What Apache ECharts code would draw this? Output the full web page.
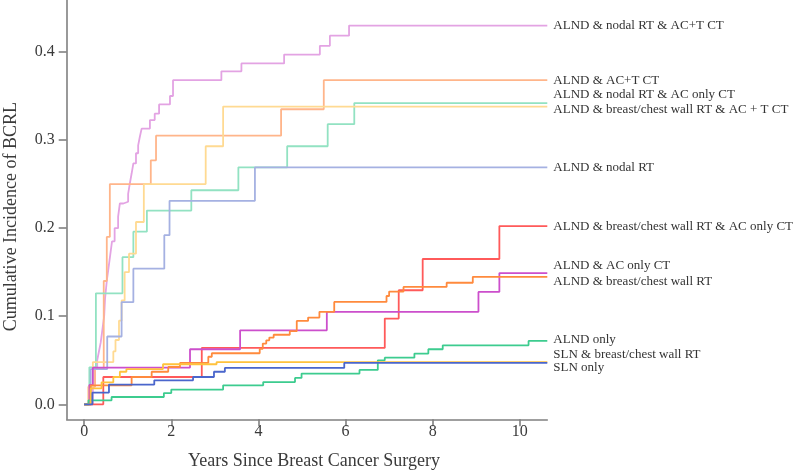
<!DOCTYPE html>
<html>
<head>
<meta charset="utf-8">
<script src="https://cdn.jsdelivr.net/npm/echarts@6/dist/echarts.min.js"></script>
<style>html,body{margin:0;padding:0;background:#fff}#c{width:800px;height:473px}</style>
</head>
<body>
<div id="c"></div>
<script>
// Group names
const groupNames = [
  'ALND & nodal RT & AC+T CT',
  'ALND & AC+T CT',
  'ALND & nodal RT & AC only CT',
  'ALND & breast/chest wall RT & AC + T CT',
  'ALND & nodal RT',
  'ALND & breast/chest wall RT & AC only CT',
  'ALND & AC only CT',
  'ALND & breast/chest wall RT',
  'ALND only',
  'SLN & breast/chest wall RT',
  'SLN only'
];
const xTicks = [0, 2, 4, 6, 8, 10];
const yTicks = [0, 0.1, 0.2, 0.3, 0.4];

// [years, cumulative incidence after event]
const alndNodalAcT = [[0,0],[0.2,0.02],[0.25,0.04],[0.30,0.05],[0.34,0.06],[0.38,0.07],[0.42,0.085],[0.46,0.10],[0.48,0.12],[0.52,0.14],[0.56,0.155],[0.60,0.17],[0.64,0.185],[0.70,0.20],[0.78,0.213],[0.82,0.228],[0.90,0.23],[1.01,0.239],[1.05,0.251],[1.09,0.262],[1.13,0.2735],[1.19,0.285],[1.24,0.294],[1.28,0.304],[1.32,0.313],[1.51,0.3227],[1.62,0.330],[1.72,0.3405],[1.97,0.35],[2.04,0.368],[3.15,0.378],[3.61,0.387],[4.59,0.397],[5.41,0.407],[5.64,0.4185],[6.08,0.430],[10.63,0.430]];
const alndAcT = [[0,0],[0.1,0.02],[0.25,0.04],[0.45,0.14],[0.52,0.19],[0.59,0.25],[1.53,0.277],[1.65,0.305],[4.52,0.335],[5.50,0.368],[10.63,0.368]];
const alndNodalAcOnly = [[0,0],[0.12,0.042],[0.27,0.126],[0.88,0.167],[1.13,0.196],[1.44,0.22],[2.46,0.243],[3.54,0.269],[4.66,0.293],[5.59,0.318],[6.20,0.342],[10.63,0.342]];
const alndBcwAcT = [[0,0],[0.1,0.02],[0.2,0.048],[0.67,0.06],[0.72,0.073],[0.80,0.095],[0.86,0.118],[0.93,0.15],[1.03,0.171],[1.19,0.207],[1.37,0.25],[2.79,0.293],[3.19,0.338],[10.63,0.338]];
const alndNodal = [[0,0],[0.15,0.04],[0.53,0.077],[0.86,0.116],[1.13,0.154],[1.84,0.192],[1.96,0.231],[3.92,0.269],[10.63,0.269]];
const alndBcwAcOnly = [[0,0],[0.44,0.031],[2.70,0.064],[6.90,0.0974],[7.22,0.1295],[7.77,0.165],[9.53,0.2023],[10.63,0.2023]];
const alndAcOnly = [[0,0],[0.12,0.022],[0.2,0.0417],[2.43,0.0625],[3.58,0.084],[5.57,0.105],[9.05,0.1276],[9.53,0.149],[10.63,0.149]];
const alndBcw = [[0,0],[0.15,0.0216],[1.09,0.031],[1.55,0.037],[1.93,0.0424],[2.2,0.047],[2.85,0.054],[2.93,0.058],[4.03,0.063],[4.10,0.069],[4.18,0.0727],[4.25,0.0758],[4.35,0.079],[4.72,0.083],[4.88,0.0947],[5.14,0.0985],[5.40,0.105],[5.74,0.1163],[6.94,0.123],[7.0,0.128],[7.33,0.1333],[8.32,0.138],[8.92,0.1447],[10.63,0.1447]];
const alndOnly = [[0,0],[0.1,0.0045],[0.63,0.0083],[1.83,0.0128],[2.0,0.0167],[3.19,0.0216],[4.11,0.0253],[4.84,0.030],[4.99,0.0349],[6.32,0.039],[6.74,0.050],[6.90,0.053],[7.58,0.0576],[7.90,0.0625],[8.23,0.067],[10.2,0.072],[10.63,0.072]];
const slnBcw = [[0,0],[0.15,0.018],[0.4,0.025],[0.67,0.031],[0.82,0.037],[0.97,0.04],[1.81,0.0455],[3.04,0.048],[10.63,0.048]];
const slnOnly = [[0,0],[0.19,0.0133],[0.57,0.0224],[1.61,0.0273],[2.50,0.031],[2.98,0.037],[3.23,0.0413],[5.97,0.047],[10.63,0.047]];

const seriesData = [alndNodalAcT, alndAcT, alndNodalAcOnly, alndBcwAcT, alndNodal, alndBcwAcOnly, alndAcOnly, alndBcw, alndOnly, slnBcw, slnOnly];
const colors = ['#e3a3e3','#ffb58a','#92e2c2','#ffda92','#a5b1e2','#ff5a5a','#cc4fcc','#ff8a3d','#3dcc8f','#ffc23d','#4a66cc'];
const labelDy = [0, 0, -8, 2.5, 0.5, 0.5, -7, 5, -1, -7.5, 5];

const chart = echarts.init(document.getElementById('c'), null, {renderer: 'canvas'});
const FONT = '"Liberation Serif", "Times New Roman", serif';
chart.setOption({
  animation: false,
  backgroundColor: '#fff',
  grid: {left: 66.7, right: 252.7, top: 0, bottom: 53.7, containLabel: false, outerBoundsMode: 'none'},
  xAxis: {
    type: 'value', min: -0.40, max: 10.63,
    name: 'Years Since Breast Cancer Surgery', nameLocation: 'middle', nameGap: 33,
    nameTextStyle: {fontFamily: FONT, fontSize: 18, color: '#3a3a3a', padding: [0,0,0,14]},
    axisLine: {show: true, onZero: false, lineStyle: {color: '#808080', width: 1.6}},
    axisTick: {show: true, length: 7, customValues: xTicks, lineStyle: {color: '#808080', width: 1.6}},
    axisLabel: {customValues: xTicks, fontFamily: FONT, fontSize: 16, color: '#3a3a3a', margin: 4},
    splitLine: {show: false}
  },
  yAxis: {
    type: 'value', min: -0.017, max: 0.459,
    name: 'Cumulative Incidence of BCRL', nameLocation: 'middle', nameGap: 46,
    nameTextStyle: {fontFamily: FONT, fontSize: 18, color: '#3a3a3a', padding: [0,14,0,0]},
    axisLine: {show: true, onZero: false, lineStyle: {color: '#808080', width: 1.6}},
    axisTick: {show: true, length: 8, customValues: yTicks, lineStyle: {color: '#808080', width: 1.6}},
    axisLabel: {customValues: yTicks, fontFamily: FONT, fontSize: 16, color: '#3a3a3a', margin: 12,
      formatter: v => v.toFixed(1)},
    splitLine: {show: false}
  },
  series: seriesData.map((d, i) => ({
    name: groupNames[i],
    type: 'line',
    step: 'end',
    data: d,
    showSymbol: false,
    symbol: 'none',
    color: colors[i],
    lineStyle: {width: 1.8, color: colors[i]},
    endLabel: {
      show: true, formatter: '{a}', distance: 6, offset: [0, labelDy[i]],
      fontFamily: FONT, fontSize: 13, color: '#333'
    },
    z: 2
  }))
});
</script>
</body>
</html>
